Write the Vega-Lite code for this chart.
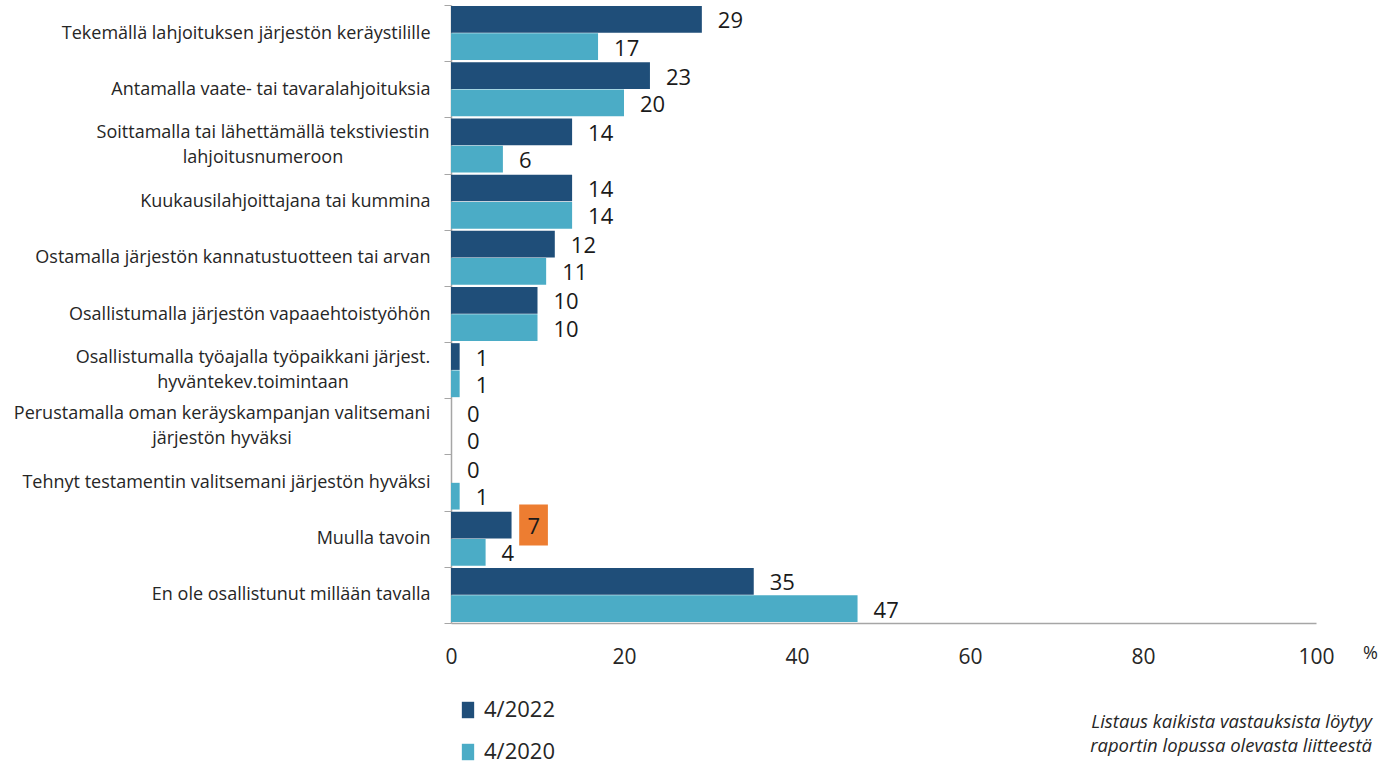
{
  "$schema": "https://vega.github.io/schema/vega-lite/v6.json",
  "width": 865,
  "height": 618,
  "autosize": "none",
  "padding": {"left": 451, "top": 5, "right": 66, "bottom": 140},
  "background": "white",
  "config": {"view": {"stroke": null}, "font": "Open Sans"},
  "title": {
    "text": ["Listaus kaikista vastauksista löytyy", "raportin lopussa olevasta liitteestä"],
    "orient": "bottom",
    "anchor": "end",
    "frame": "group",
    "offset": -50,
    "dx": 56,
    "fontSize": 18.5,
    "fontStyle": "italic",
    "fontWeight": "normal",
    "lineHeight": 24,
    "color": "#262626",
    "font": "Open Sans"
  },
  "data": {
    "values": [
      {"category": "Tekemällä lahjoituksen järjestön keräystilille", "series": "4/2022", "value": 29},
      {"category": "Tekemällä lahjoituksen järjestön keräystilille", "series": "4/2020", "value": 17},
      {"category": "Antamalla vaate- tai tavaralahjoituksia", "series": "4/2022", "value": 23},
      {"category": "Antamalla vaate- tai tavaralahjoituksia", "series": "4/2020", "value": 20},
      {"category": "Soittamalla tai lähettämällä tekstiviestin|lahjoitusnumeroon", "series": "4/2022", "value": 14},
      {"category": "Soittamalla tai lähettämällä tekstiviestin|lahjoitusnumeroon", "series": "4/2020", "value": 6},
      {"category": "Kuukausilahjoittajana tai kummina", "series": "4/2022", "value": 14},
      {"category": "Kuukausilahjoittajana tai kummina", "series": "4/2020", "value": 14},
      {"category": "Ostamalla järjestön kannatustuotteen tai arvan", "series": "4/2022", "value": 12},
      {"category": "Ostamalla järjestön kannatustuotteen tai arvan", "series": "4/2020", "value": 11},
      {"category": "Osallistumalla järjestön vapaaehtoistyöhön", "series": "4/2022", "value": 10},
      {"category": "Osallistumalla järjestön vapaaehtoistyöhön", "series": "4/2020", "value": 10},
      {"category": "Osallistumalla työajalla työpaikkani järjest.|hyväntekev.toimintaan", "series": "4/2022", "value": 1},
      {"category": "Osallistumalla työajalla työpaikkani järjest.|hyväntekev.toimintaan", "series": "4/2020", "value": 1},
      {"category": "Perustamalla oman keräyskampanjan valitsemani|järjestön hyväksi", "series": "4/2022", "value": 0},
      {"category": "Perustamalla oman keräyskampanjan valitsemani|järjestön hyväksi", "series": "4/2020", "value": 0},
      {"category": "Tehnyt testamentin valitsemani järjestön hyväksi", "series": "4/2022", "value": 0},
      {"category": "Tehnyt testamentin valitsemani järjestön hyväksi", "series": "4/2020", "value": 1},
      {"category": "Muulla tavoin", "series": "4/2022", "value": 7},
      {"category": "Muulla tavoin", "series": "4/2020", "value": 4},
      {"category": "En ole osallistunut millään tavalla", "series": "4/2022", "value": 35},
      {"category": "En ole osallistunut millään tavalla", "series": "4/2020", "value": 47}
    ]
  },
  "encoding": {
    "y": {
      "field": "category",
      "type": "nominal",
      "sort": null,
      "scale": {"paddingInner": 0, "paddingOuter": 0},
      "axis": {
        "title": null,
        "labelExpr": "indexof(datum.label, '|') < 0 ? datum.label : ''",
        "labelFont": "Open Sans",
        "labelFontSize": 18,
        "labelColor": "#262626",
        "labelPadding": 14,
        "labelLimit": 460,
        "tickBand": "extent",
        "tickSize": 7,
        "tickColor": "#a6a6a6",
        "domainColor": "#a6a6a6",
        "domainWidth": 1.5
      }
    }
  },
  "layer": [
    {
      "mark": {"type": "bar"},
      "encoding": {
        "yOffset": {"field": "series", "type": "nominal", "sort": ["4/2022", "4/2020"], "scale": {"paddingOuter": 0.04, "paddingInner": 0.02}},
        "x": {
          "field": "value",
          "type": "quantitative",
          "scale": {"domain": [0, 100], "nice": false},
          "axis": {
            "values": [0, 20, 40, 60, 80, 100],
            "grid": false,
            "ticks": false,
            "labelFont": "Open Sans",
            "labelFontSize": 21,
            "labelColor": "#262626",
            "labelPadding": 23,
            "labelFlush": false,
            "domainColor": "#a6a6a6",
            "domainWidth": 1.5,
            "title": "%",
            "titleFont": "Open Sans",
            "titleFontSize": 18,
            "titleFontWeight": "normal",
            "titleColor": "#262626",
            "titleX": 919,
            "titleY": 30,
            "titleAlign": "center",
            "titleBaseline": "middle"
          }
        },
        "color": {
          "field": "series",
          "type": "nominal",
          "sort": ["4/2022", "4/2020"],
          "scale": {"domain": ["4/2022", "4/2020"], "range": ["#1F4E79", "#4BACC6"]},
          "legend": {
            "title": null,
            "orient": "none",
            "legendX": 6,
            "legendY": 694,
            "direction": "vertical",
            "symbolType": "M-0.75,-1H0.75V1H-0.75Z",
            "symbolSize": 270,
            "symbolStrokeWidth": 0,
            "labelFont": "Open Sans",
            "labelFontSize": 22,
            "labelColor": "#262626",
            "labelOffset": 5,
            "rowPadding": 20
          }
        }
      }
    },
    {
      "transform": [{"filter": "datum.category == 'Muulla tavoin' && datum.series == '4/2022'"}],
      "mark": {"type": "point", "shape": "M-0.7,-1H0.7V1H-0.7Z", "filled": true, "color": "#ED7D31", "opacity": 1, "size": 1681, "xOffset": 22, "strokeWidth": 0},
      "encoding": {
        "yOffset": {"field": "series", "type": "nominal", "sort": ["4/2022", "4/2020"], "scale": {"paddingOuter": 0.04, "paddingInner": 0.02}},
        "x": {"field": "value", "type": "quantitative"}
      }
    },
    {
      "mark": {"type": "text", "align": "left", "baseline": "middle", "dx": 16, "dy": 2, "font": "Open Sans", "fontSize": 22, "color": "#1a1a1a"},
      "encoding": {
        "yOffset": {"field": "series", "type": "nominal", "sort": ["4/2022", "4/2020"], "scale": {"paddingOuter": 0.04, "paddingInner": 0.02}},
        "x": {"field": "value", "type": "quantitative"},
        "text": {"field": "value", "type": "quantitative"}
      }
    },
    {
      "transform": [{"filter": "datum.series == '4/2022' && indexof(datum.category, 'Soittamalla') == 0"}],
      "mark": {"type": "text", "align": "center", "baseline": "middle", "lineBreak": "|", "lineHeight": 25, "dx": -188, "dy": -12, "font": "Open Sans", "fontSize": 18, "color": "#262626"},
      "encoding": {"x": {"datum": 0, "type": "quantitative"}, "text": {"field": "category"}}
    },
    {
      "transform": [{"filter": "datum.series == '4/2022' && indexof(datum.category, 'Osallistumalla työajalla') == 0"}],
      "mark": {"type": "text", "align": "center", "baseline": "middle", "lineBreak": "|", "lineHeight": 25, "dx": -198, "dy": -12, "font": "Open Sans", "fontSize": 18, "color": "#262626"},
      "encoding": {"x": {"datum": 0, "type": "quantitative"}, "text": {"field": "category"}}
    },
    {
      "transform": [{"filter": "datum.series == '4/2022' && indexof(datum.category, 'Perustamalla') == 0"}],
      "mark": {"type": "text", "align": "center", "baseline": "middle", "lineBreak": "|", "lineHeight": 25, "dx": -229, "dy": -12, "font": "Open Sans", "fontSize": 18, "color": "#262626"},
      "encoding": {"x": {"datum": 0, "type": "quantitative"}, "text": {"field": "category"}}
    }
  ]
}
